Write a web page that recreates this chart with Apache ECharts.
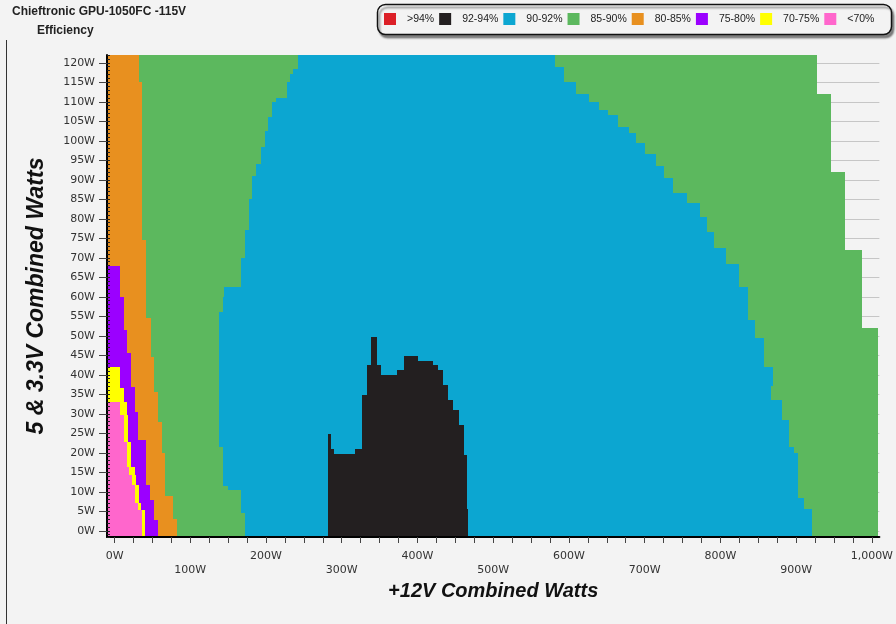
<!DOCTYPE html>
<html><head><meta charset="utf-8">
<script src="https://cdn.jsdelivr.net/npm/echarts@6/dist/echarts.min.js"></script>
<style>html,body{margin:0;padding:0;background:#f3f3f3}#c{width:896px;height:624px}</style>
</head><body><div id="c"></div><script>
// ---- data (watts) ----
const bandNames = ['>94%', '92-94%', '90-92%', '85-90%', '80-85%', '75-80%', '70-75%', '<70%'];
const xLabelValues = [0, 100, 200, 300, 400, 500, 600, 700, 800, 900, 1000];
const yLabelValues = [0, 5, 10, 15, 20, 25, 30, 35, 40, 45, 50, 55, 60, 65, 70, 75, 80, 85, 90, 95, 100, 105, 110, 115, 120];

// Each step: [5&3.3V from, 5&3.3V to, +12V where band ends]
const green85Outer = [[112, 122, 927], [92, 112, 946], [72, 92, 965], [52, 72, 987], [-1.6, 52, 1008]];
const blue90 = [
  [119, 122, 581], [115, 119, 594], [112, 115, 610], [110, 112, 627], [108, 110, 640],
  [106.5, 108, 651], [103.5, 106.5, 665], [102, 103.5, 680], [99.5, 102, 689], [96.5, 99.5, 701],
  [93.5, 96.5, 715], [90.5, 93.5, 725], [86.5, 90.5, 737], [84, 86.5, 756], [80.5, 84, 773],
  [76.5, 80.5, 782], [72.5, 76.5, 792], [68.5, 72.5, 808], [62.5, 68.5, 825], [54, 62.5, 837],
  [49.5, 54, 846], [42, 49.5, 857], [37, 42, 870], [33.5, 37, 867], [28.5, 33.5, 881],
  [21.5, 28.5, 890], [20, 21.5, 897], [8.5, 20, 903], [5.5, 8.5, 911], [-1.6, 5.5, 921]
];
// Black columns: [+12V from, +12V to, top of 5&3.3V]
const black92 = [
  [282.3, 285.5, 24.7], [285.5, 290.3, 20.9], [290.3, 317.5, 19.6], [317.5, 327, 20.9],
  [327, 333, 34.8], [333, 338, 42.5], [338, 346, 49.7], [346, 351.5, 42.5], [351.5, 372.5, 39.9],
  [372.5, 382, 41.2], [382, 401, 44.8], [401, 421, 43.6], [421, 427.5, 42.5], [427.5, 434, 41.2],
  [434, 440.5, 37.4], [440.5, 447, 33.5], [447, 455, 30.9], [455, 461, 27.1], [461, 465.5, 19.4],
  [465.5, 467, 5.7]
];
const green85Inner = [
  [118.5, 122, 242], [117, 118.5, 236], [115, 117, 232], [111, 115, 228], [110, 111, 213],
  [106, 110, 208], [102.5, 106, 203], [98.5, 102.5, 199], [94, 98.5, 193], [91, 94, 187],
  [85, 91, 182], [77, 85, 177], [70, 77, 172], [62.5, 70, 167], [60, 62.5, 145], [56, 60, 143],
  [21.5, 56, 138], [11.5, 21.5, 143], [10.5, 11.5, 150], [4.5, 10.5, 167], [-1.6, 4.5, 172]
];
const orange80 = [
  [115, 122, 32], [74.5, 115, 36.5], [54.5, 74.5, 42], [44.5, 54.5, 47.5], [35.5, 44.5, 52.5],
  [28, 35.5, 57], [20, 28, 62], [9, 20, 67], [3, 9, 77], [-1.6, 3, 82.5]
];
const purple75 = [
  [60, 68, 7], [51.5, 60, 12.3], [45.5, 51.5, 16.7], [36.8, 45.5, 22], [30.4, 36.8, 26.4],
  [23.3, 30.4, 30.7], [11.7, 23.3, 41], [7.9, 11.7, 47.4], [2.8, 7.9, 52.7], [-1.6, 2.8, 57]
];
const yellow70 = [
  [36.5, 42, 7], [33, 36.5, 12.3], [29.6, 33, 16.7], [22.7, 29.6, 17.5], [16.3, 22.7, 22],
  [14.3, 16.3, 26.4], [11.7, 14.3, 27.7], [7.1, 11.7, 32], [5.3, 7.1, 35], [-1.6, 5.3, 40.8]
];
const pinkBelow70 = [
  [29.6, 33, 7], [22.7, 29.6, 12.3], [16.3, 22.7, 16.7], [14.3, 16.3, 18.9], [11.7, 14.3, 23.3],
  [7.1, 11.7, 26.8], [5.3, 7.1, 31], [-1.6, 5.3, 36.4]
];
const red94 = [];

// ---- styles ----
const bandColors = ['#dc2027', '#231f20', '#0ca6d1', '#5cb85e', '#e8901f', '#9b00ff', '#ffff00', '#ff66cc'];
const X_MIN = -10, X_MAX = 1010, Y_MIN = -1.6, Y_MAX = 122;

function fillLayer(params, api) {
  const lo = api.value(0), hi = api.value(1), xe = api.value(2);
  const a = api.coord([X_MIN, hi]);
  const b = api.coord([xe, lo]);
  const x0 = Math.round(a[0]), y0 = Math.round(a[1]), x1 = Math.round(b[0]), y1 = Math.round(b[1]);
  return { type: 'rect', shape: { x: x0, y: y0, width: x1 - x0, height: y1 - y0 }, style: { fill: api.visual('color') } };
}
function columnLayer(params, api) {
  const xs = api.value(0), xe = api.value(1), top = api.value(2);
  const a = api.coord([xs, top]);
  const b = api.coord([xe, Y_MIN]);
  const x0 = Math.round(a[0]), y0 = Math.round(a[1]), x1 = Math.round(b[0]), y1 = Math.round(b[1]);
  return { type: 'rect', shape: { x: x0, y: y0, width: x1 - x0, height: y1 - y0 }, style: { fill: api.visual('color') } };
}
function fillSeries(name, color, data) {
  return { type: 'custom', name, data, renderItem: fillLayer, encode: { x: 2, y: [0, 1] },
    itemStyle: { color }, silent: true, z: 2 };
}
const xTicks = [];
for (let v = 0; v <= 1000; v += 25) xTicks.push(v);

const fmtW = v => String(v).replace(/\B(?=(\d{3})+(?!\d))/g, ',') + 'W';
const labelFont = 'DejaVu Sans';

const chart = echarts.init(document.getElementById('c'), null, { renderer: 'canvas' });
chart.setOption({
  animation: false,
  backgroundColor: '#f3f3f3',
  title: [
    { text: 'Chieftronic GPU-1050FC -115V', left: 12, top: 6, padding: 0,
      textStyle: { fontFamily: 'Liberation Sans', fontSize: 12, fontWeight: 'bold', color: '#222' } },
    { text: 'Efficiency', left: 37, top: 25, padding: 0,
      textStyle: { fontFamily: 'Liberation Sans', fontSize: 12, fontWeight: 'bold', color: '#222' } }
  ],
  graphic: [
    { type: 'rect', z: 0, shape: { x: 377.5, y: 4.5, width: 514, height: 30, r: 8 },
      style: { fill: '#f3f3f3', stroke: '#111', lineWidth: 1.5, shadowColor: 'rgba(0,0,0,0.45)', shadowOffsetX: 2, shadowOffsetY: 3, shadowBlur: 2 } },
    { type: 'line', shape: { x1: 6.5, y1: 40, x2: 6.5, y2: 624 }, style: { stroke: '#333', lineWidth: 1 } }
  ],
  legend: {
    data: bandNames, left: 384, top: 13, padding: 0, itemWidth: 12, itemHeight: 12, itemGap: 5,
    icon: 'rect', selectedMode: false, z: 5,
    textStyle: { fontFamily: 'Liberation Sans', fontSize: 10.5, color: '#222', width: 36, overflow: 'none', padding: [0, 0, 0, 6] }
  },
  grid: { left: 107, right: 16, top: 55, bottom: 87 },
  xAxis: [{
    type: 'value', min: X_MIN, max: X_MAX, z: 10,
    name: '+12V Combined Watts', nameLocation: 'middle', nameGap: 39,
    nameTextStyle: { fontFamily: 'Liberation Sans', fontSize: 20, fontWeight: 'bold', fontStyle: 'italic', color: '#111' },
    axisLine: { show: true, onZero: false, lineStyle: { color: '#000', width: 2 } },
    axisTick: { show: true, customValues: xTicks, length: 6, lineStyle: { color: '#444' } },
    axisLabel: { customValues: xLabelValues, margin: 12, fontFamily: labelFont, fontSize: 11, color: '#333', lineHeight: 14,
      formatter: v => ((v / 100) % 2 === 1 ? '\n' : '') + fmtW(v) },
    splitLine: { show: false }
  }],
  yAxis: [{
    type: 'value', min: Y_MIN, max: Y_MAX, z: 10, position: 'left',
    name: '5 & 3.3V Combined Watts', nameLocation: 'middle', nameGap: 59, nameRotate: 90,
    nameTextStyle: { fontFamily: 'Liberation Sans', fontSize: 23, fontWeight: 'bold', fontStyle: 'italic', color: '#111' },
    axisLine: { show: true, onZero: false, lineStyle: { color: '#000', width: 2 } },
    axisTick: { show: true, customValues: yLabelValues, length: 8, lineStyle: { color: '#444' } },
    axisLabel: { customValues: yLabelValues, margin: 12, fontFamily: labelFont, fontSize: 11, color: '#333', formatter: v => fmtW(v) },
    splitLine: { show: false }
  }, {
    type: 'value', min: Y_MIN, max: Y_MAX, z: 10, position: 'left', offset: 0,
    minInterval: 1, maxInterval: 1, splitNumber: 124,
    axisLine: { show: false, onZero: false }, axisLabel: { show: false }, splitLine: { show: false },
    axisTick: { show: true, inside: true, length: 3, lineStyle: { color: '#222' } }
  }, {
    type: 'value', min: Y_MIN, max: Y_MAX, z: 0, position: 'left', offset: 0,
    minInterval: 5, maxInterval: 5, splitNumber: 25,
    axisLine: { show: false, onZero: false }, axisLabel: { show: false }, axisTick: { show: false, customValues: yLabelValues },
    splitLine: { show: true, lineStyle: { color: '#c6c6c6', width: 1 } }
  }],
  series: [
    fillSeries('>94%', bandColors[0], red94),
    fillSeries('85-90%', bandColors[3], green85Outer),
    fillSeries('90-92%', bandColors[2], blue90),
    { type: 'custom', name: '92-94%', data: black92, renderItem: columnLayer, encode: { x: [0, 1], y: 2 },
      itemStyle: { color: bandColors[1] }, silent: true, z: 2 },
    fillSeries('85-90%', bandColors[3], green85Inner),
    fillSeries('80-85%', bandColors[4], orange80),
    fillSeries('75-80%', bandColors[5], purple75),
    fillSeries('70-75%', bandColors[6], yellow70),
    fillSeries('<70%', bandColors[7], pinkBelow70)
  ]
});
</script></body></html>
